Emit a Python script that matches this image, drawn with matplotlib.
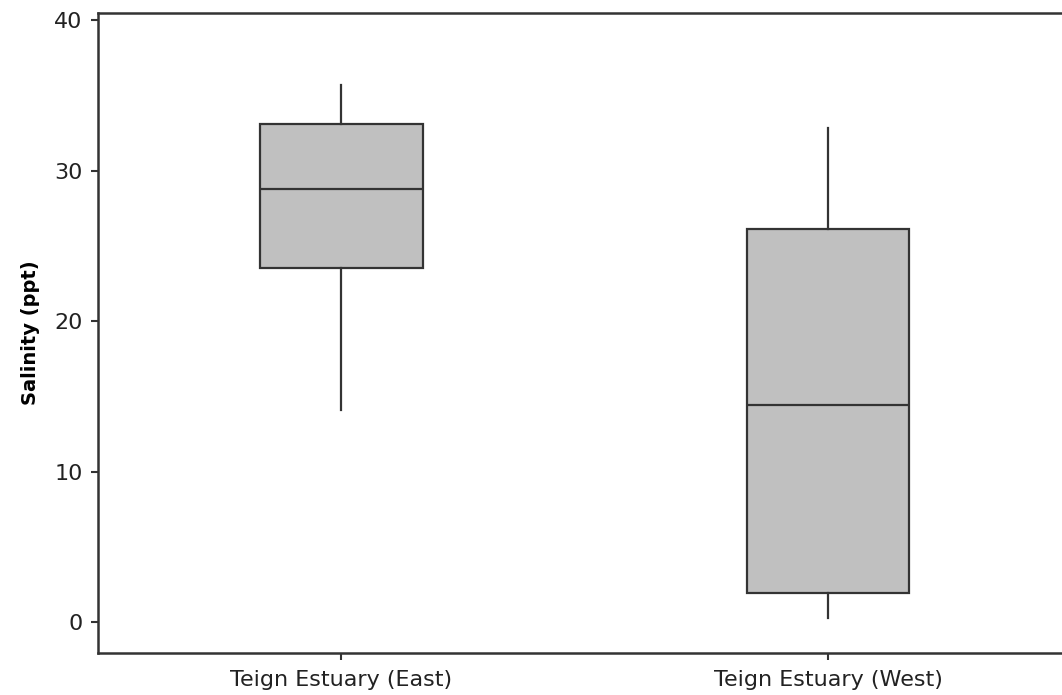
import matplotlib
matplotlib.use("Agg")
from matplotlib import pyplot as plt

# box plot summary
labels = ["Teign Estuary (East)", "Teign Estuary (West)"]
whislo = [14.1, 0.3]
q1 = [23.5, 1.9]
med = [28.8, 14.4]
q3 = [33.1, 26.1]
whishi = [35.7, 32.8]

stats = []
for i in range(len(labels)):
    stats.append(dict(label=labels[i], whislo=whislo[i], q1=q1[i], med=med[i],
                      q3=q3[i], whishi=whishi[i], fliers=[]))

fig = plt.figure(figsize=(10.62, 6.95), dpi=100)
ax = fig.add_axes([0.0923, 0.0604, 0.917, 0.921])

line_col = "#333333"
ax.bxp(stats, positions=[1, 2], widths=0.333, patch_artist=True, showcaps=False,
       boxprops=dict(facecolor="#c0c0c0", edgecolor=line_col, linewidth=1.6),
       medianprops=dict(color=line_col, linewidth=1.6),
       whiskerprops=dict(color=line_col, linewidth=1.6))

ax.set_xlim(0.5, 2.5)
ax.set_ylim(-2.06, 40.47)
ax.set_yticks([0, 10, 20, 30, 40])
ax.set_ylabel("Salinity (ppt)", fontsize=14, fontweight="bold", labelpad=10)
ax.tick_params(axis="both", direction="out", length=5, width=1.5, colors=line_col,
               labelsize=16, labelcolor="#222222")
ax.tick_params(axis="y", pad=6)
ax.tick_params(axis="x", pad=7)
for s in ax.spines.values():
    s.set_color(line_col)
    s.set_linewidth(1.8)
ax.spines["right"].set_visible(False)

fig.savefig("out.png", dpi=100)
